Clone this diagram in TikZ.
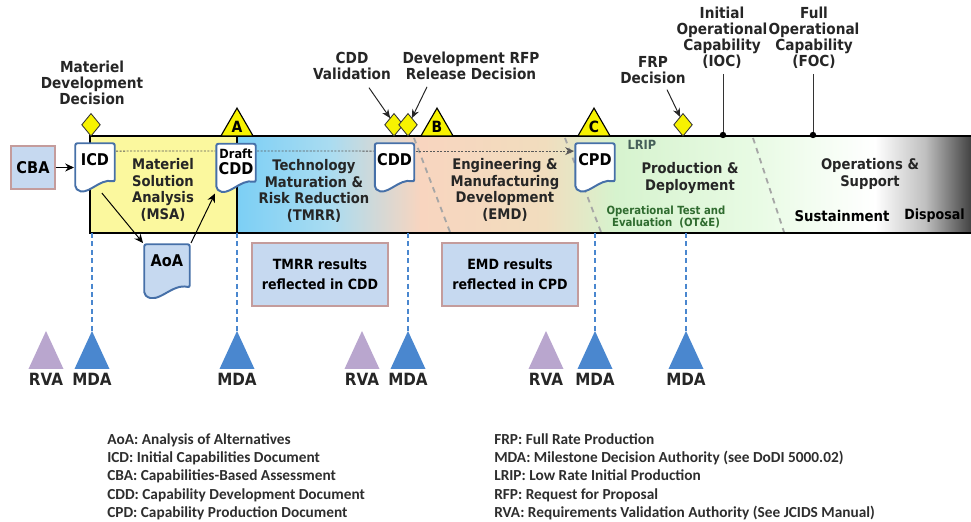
\documentclass[tikz,border=0pt]{standalone}
\usepackage{fontspec}
\setmainfont{DejaVu Sans Condensed}
\newfontfamily\legendfont{Carlito}
\usetikzlibrary{shapes.geometric, arrows.meta, calc, positioning}

\definecolor{msaYellow}{HTML}{FBF89E}
\definecolor{tmrrBlue}{HTML}{7CCFF5}
\definecolor{tmrrPale}{HTML}{AADCF1}
\definecolor{emdPeach}{HTML}{F8D5BF}
\definecolor{emdTan}{HTML}{F1DDBE}
\definecolor{pdGreen}{HTML}{D6F3CE}
\definecolor{pdPale}{HTML}{E9FBE5}
\definecolor{osDark}{HTML}{383838}
\definecolor{msYellow}{HTML}{F7F200}
\definecolor{docBlue}{HTML}{4670A8}
\definecolor{boxFill}{HTML}{C6D9F0}
\definecolor{boxLine}{HTML}{C49C9C}
\definecolor{mdaBlue}{HTML}{4A87CF}
\definecolor{rvaPurple}{HTML}{B9A6CE}
\definecolor{oteGreen}{HTML}{2F6B2F}
\definecolor{lripGray}{HTML}{46605A}
\definecolor{dashGray}{HTML}{A6A6A6}
\definecolor{legendText}{HTML}{2E2E2E}

\tikzset{
    toplabel/.style={font=\bfseries\fontsize{10.8}{11.4}\selectfont, align=center, text=black!85},
    phase/.style={font=\bfseries\fontsize{10.4}{11.7}\selectfont, align=center, text=black!85},
    doc/.style={draw=none, inner sep=0pt, outer sep=0pt, align=center,
        minimum width=10.5mm, minimum height=12.75mm, text height=6mm, text depth=6.75mm,
        font=\bfseries\fontsize{11.5}{12}\selectfont,
        path picture={
            \draw[docBlue, line width=1.4pt, fill=#1, rounded corners=1.5pt]
                let \p1=(path picture bounding box.north west),
                    \p2=(path picture bounding box.south east) in
                (\x1+0.9pt,\y1-0.9pt) -- (\x2-0.9pt,\y1-0.9pt) -- (\x2-0.9pt,{\y2+0.22*(\y1-\y2)})
                .. controls ({\x1+0.6*(\x2-\x1)},{\y2+0.3*(\y1-\y2)}) and ({\x1+0.3*(\x2-\x1)},{\y2-0.1*(\y1-\y2)})
                .. (\x1+0.9pt,{\y2+0.1*(\y1-\y2)}) -- cycle;
        }},
    cbabox/.style={draw=boxLine, line width=0.8pt, fill=boxFill, inner sep=0pt,
        minimum width=11mm, minimum height=10.75mm, font=\bfseries\fontsize{11.5}{12}\selectfont},
    infobox/.style={draw=boxLine, line width=0.8pt, fill=boxFill, align=center, inner sep=0pt,
        minimum width=34mm, minimum height=15.75mm, font=\bfseries\fontsize{10}{14}\selectfont},
    milestone/.style={regular polygon, regular polygon sides=3, draw=black, line width=0.8pt,
        fill=msYellow, inner sep=0pt, outer sep=0pt, minimum size=9.3mm,
        font=\bfseries\fontsize{11}{11}\selectfont},
    decision/.style={diamond, draw=black!80, line width=0.6pt, fill=msYellow, inner sep=0pt,
        outer sep=0pt, minimum width=4.6mm, minimum height=5.6mm},
    eventdot/.style={circle, fill=black, inner sep=0pt, minimum size=1.6mm},
    authority/.style={isosceles triangle, isosceles triangle stretches, shape border rotate=90,
        inner sep=0pt, outer sep=0pt, minimum width=8.75mm, minimum height=9.5mm},
    mda/.style={authority, fill=mdaBlue},
    rva/.style={authority, fill=rvaPurple},
    authlabel/.style={font=\bfseries\fontsize{12}{12}\selectfont, text=black!85, inner sep=0pt},
    callout/.style={black!85, line width=0.7pt, -{Stealth[length=2.2mm, width=1.8mm]}},
    flow/.style={black, line width=0.7pt, -{Stealth[length=2.2mm, width=2mm]}},
    dotline/.style={black!65, line width=0.6pt, dash pattern=on 1.5pt off 1pt},
    mdaline/.style={mdaBlue, line width=1.3pt, dash pattern=on 3.5pt off 2.5pt},
    phasesep/.style={dashGray, line width=1.3pt, dash pattern=on 4pt off 3.5pt},
    milepin/.style={black!80, line width=0.7pt},
    legend/.style={font=\legendfont\bfseries\fontsize{10.9}{13.1}\selectfont, text=legendText,
        align=left, anchor=north west, inner sep=0pt}
}

\begin{document}
\begin{tikzpicture}[x=0.25mm, y=-0.25mm]
    \useasboundingbox (0,0) rectangle (971,522);
    \clip (0,0) rectangle (971,522);

    % phase bar
    \fill[msaYellow] (90,136) rectangle (237.5,233);
    \shade[left color=tmrrBlue, right color=tmrrPale] (237,136) rectangle (331,233);
    \shade[left color=tmrrPale, right color=emdPeach] (330,136) rectangle (421,233);
    \shade[left color=emdPeach, right color=emdTan] (420,136) rectangle (546,233);
    \shade[left color=emdTan, right color=pdGreen] (545,136) rectangle (616,233);
    \shade[left color=pdGreen, right color=pdPale] (615,136) rectangle (761,233);
    \shade[left color=pdPale, right color=white] (760,136) rectangle (876,233);
    \shade[left color=white, right color=osDark, middle color=black!25] (875,136) rectangle (975,233);
    \draw[phasesep] (414,138) -- (450,232);
    \draw[phasesep] (565,138) -- (601,232);
    \draw[phasesep] (753,138) -- (784,232);
    \draw[line width=1.5pt] (975,136) -- (90,136) -- (90,233) -- (975,233);
    \draw[line width=1.2pt] (237,136) -- (237,233);
    \coordinate (barbot) at (0,233);

    % phase texts
    \node[phase] (msalab) at (163,190) {Materiel\\Solution\\Analysis\\(MSA)};
    \node[phase] (tmrrlab) at (314,191) {Technology\\Maturation \&\\Risk Reduction\\(TMRR)};
    \node[phase] (emdlab) at (505,190) {Engineering \&\\Manufacturing\\Development\\(EMD)};
    \node[phase] (pdlab) at (690,178) {Production \&\\Deployment};
    \node[phase] (oslab) at (870,174) {Operations \&\\Support};
    \node[font=\bfseries\fontsize{9}{9}\selectfont, text=lripGray] (lrip) at (642,145) {LRIP};
    \node[font=\bfseries\fontsize{8}{8.5}\selectfont, text=oteGreen, align=center] (ote) at (666,217)
        {Operational Test and\\Evaluation\ \ (OT\&E)};
    \node[font=\bfseries\fontsize{10.5}{11}\selectfont] (sust) at (842,216) {Sustainment};
    \node[font=\bfseries\fontsize{10}{11}\selectfont, anchor=west, inner sep=0pt] (disp) at (904,216) {Disposal};

    % documents
    \node[cbabox] (cba) at (33,167.5) {CBA};
    \node[doc=white] (icd) at (95,167.5) {ICD};
    \node[doc=white, text height=8mm, text depth=4.5mm] (draft) at (236,168)
        {{\fontsize{9}{9}\selectfont Draft}\\CDD};
    \node[doc=white] (cdd) at (394.5,167.5) {CDD};
    \node[doc=white] (cpd) at (595,167.5) {CPD};
    \node[doc=boxFill, minimum width=12mm, minimum height=14.25mm, text height=6mm, text depth=8.25mm]
        (aoa) at (167,271.5) {AoA};

    \draw[flow] (cba) -- (icd);
    \draw[flow] (icd.-75) -- (aoa.north west);
    \draw[flow] (aoa.north east) -- (draft.south west);
    \draw[dotline] (icd.38) -- (draft.141);
    \draw[dotline] (draft.39) -- (cdd.142);
    \draw[dotline, -{Stealth[length=2.2mm, width=2mm]}] (cdd.38) -- (cpd.142);

    % milestones and decisions
    \node[milestone, anchor=south] (msA) at (237,136) {A};
    \node[milestone, anchor=south] (msB) at (437,136) {B};
    \node[milestone, anchor=south] (msC) at (594,136) {C};
    \node[decision, anchor=south] (mdd) at (91,136) {};
    \node[decision, anchor=south] (cddv) at (394,136) {};
    \node[decision, anchor=south] (rfp) at (408,136) {};
    \node[decision, anchor=south] (frp) at (683,136) {};
    \node[eventdot] (ioc) at (723,135) {};
    \node[eventdot] (foc) at (813,135) {};

    \node[toplabel] (mddlab) at (92,83) {Materiel\\Development\\Decision};
    \node[toplabel] (cddvlab) at (352,66) {CDD\\Validation};
    \node[toplabel] (rfplab) at (471,66) {Development RFP\\Release Decision};
    \node[toplabel] (frplab) at (653,70) {FRP\\Decision};
    \node[toplabel] (ioclab) at (722,38) {Initial\\Operational\\Capability\\(IOC)};
    \node[toplabel] (foclab) at (814,38) {Full\\Operational\\Capability\\(FOC)};

    \draw[callout] ([shift={(17,3)}]cddvlab.south) -- (cddv.120);
    \draw[callout] ([shift={(-44,2)}]rfplab.south) -- (rfp.60);
    \draw[callout] ([shift={(14,1)}]frplab.south) -- (frp.110);
    \draw[milepin] (ioc |- ioclab.south) -- (ioc);
    \draw[milepin] (foc |- foclab.south) -- (foc);

    % results
    \node[infobox] (tmrrres) at (320,274.5) {TMRR results\\reflected in CDD};
    \node[infobox] (emdres) at (510,274.5) {EMD results\\reflected in CPD};

    % decision authorities
    \foreach \x [count=\i] in {92,237,408,595,686} {
        \node[mda, anchor=apex] (mda\i) at (\x,331) {};
        \node[authlabel, below=1mm of mda\i] (mdalab\i) {MDA};
        \draw[mdaline] (mda\i.apex |- barbot) -- (mda\i.apex);
    }
    \foreach \x [count=\i] in {46,362,546} {
        \node[rva, anchor=apex] (rva\i) at (\x,331) {};
        \node[authlabel, below=1mm of rva\i] (rvalab\i) {RVA};
    }

    % legend
    \node[legend] (legleft) at (107,433) {AoA: Analysis of Alternatives\\ICD: Initial Capabilities Document\\CBA: Capabilities-Based Assessment\\CDD: Capability Development Document\\CPD: Capability Production Document};
    \node[legend] (legright) at (494,433) {FRP: Full Rate Production\\MDA: Milestone Decision Authority (see DoDI 5000.02)\\LRIP: Low Rate Initial Production\\RFP: Request for Proposal\\RVA: Requirements Validation Authority (See JCIDS Manual)};
\end{tikzpicture}
\end{document}
